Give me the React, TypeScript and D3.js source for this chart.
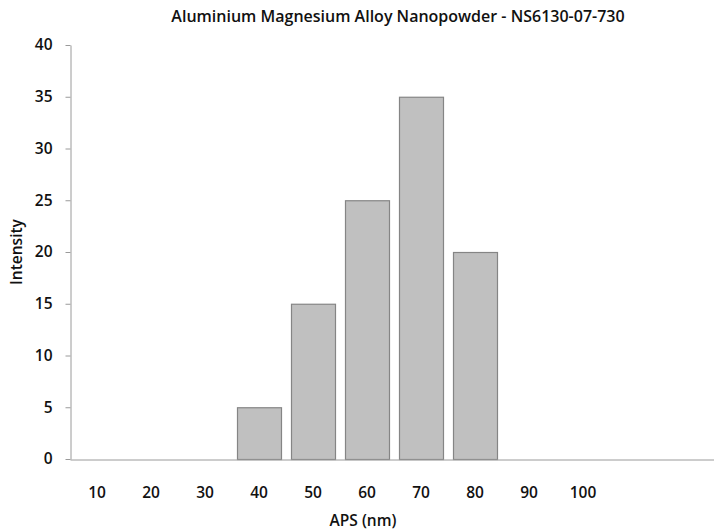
import React, { useRef, useEffect } from 'react'
import * as d3 from 'd3'

// categories (last two slots are empty in the original chart)
const categories: string[] = ['10', '20', '30', '40', '50', '60', '70', '80', '90', '100', '', ' ']
const intensity: number[] = [0, 0, 0, 5, 15, 25, 35, 20, 0, 0, 0, 0]
const yTicks: number[] = [0, 5, 10, 15, 20, 25, 30, 35, 40]

const title = 'Aluminium Magnesium Alloy Nanopowder - NS6130-07-730'
const font = '"Open Sans", "Liberation Sans", sans-serif'

export default function App() {
  const ref = useRef<SVGSVGElement>(null)

  useEffect(() => {
    const svg = d3.select(ref.current)
    svg.selectAll('*').remove()

    const width = 714, height = 532
    const margin = { top: 45, right: -4, bottom: 73, left: 70 }

    const x = d3.scaleBand<string>()
      .domain(categories)
      .range([margin.left, width - margin.right])
      .paddingInner(0.185)
      .paddingOuter(0.0925)
    const y = d3.scaleLinear().domain([0, 40]).range([height - margin.bottom, margin.top])

    svg.append('rect').attr('width', width).attr('height', height).attr('fill', '#fff')

    // bars
    svg.append('g')
      .selectAll('rect')
      .data(categories.map((c, i) => ({ c, v: intensity[i] })).filter(d => d.v > 0))
      .join('rect')
      .attr('x', d => x(d.c)! + 0.5)
      .attr('y', d => y(d.v) + 0.5)
      .attr('width', x.bandwidth())
      .attr('height', d => y(0) - y(d.v))
      .attr('fill', '#c0c0c0')
      .attr('stroke', '#858585')
      .attr('stroke-width', 1.2)

    // y axis
    const yAxis = svg.append('g')
      .attr('transform', `translate(${margin.left + 0.5},0)`)
      .call(d3.axisLeft(y).tickValues(yTicks).tickSize(5).tickSizeOuter(0).tickPadding(13))
    yAxis.select('.domain').attr('stroke', '#9a9a9a')
    yAxis.selectAll('.tick line').attr('stroke', '#9a9a9a')
    yAxis.selectAll('.tick text')
      .attr('font-family', font).attr('font-size', 15.5).attr('font-weight', 600).attr('fill', '#111')

    // x axis
    const xAxis = svg.append('g')
      .attr('transform', `translate(0,${y(0) + 0.5})`)
      .call(d3.axisBottom(x).tickSize(0).tickPadding(27))
    xAxis.select('.domain').attr('stroke', '#9a9a9a')
    xAxis.selectAll('.tick text')
      .attr('font-family', font).attr('font-size', 15.5).attr('font-weight', 600).attr('fill', '#111')

    // titles
    svg.append('text')
      .attr('x', 398).attr('y', 22)
      .attr('text-anchor', 'middle')
      .attr('font-family', font).attr('font-size', 16).attr('font-weight', 600).attr('fill', '#111')
      .text(title)

    svg.append('text')
      .attr('x', 363).attr('y', 526)
      .attr('text-anchor', 'middle')
      .attr('font-family', font).attr('font-size', 15.5).attr('font-weight', 600).attr('fill', '#111')
      .text('APS (nm)')

    svg.append('text')
      .attr('transform', `translate(22,${252}) rotate(-90)`)
      .attr('text-anchor', 'middle')
      .attr('font-family', font).attr('font-size', 15.5).attr('font-weight', 600).attr('fill', '#111')
      .text('Intensity')
  }, [])

  return (
    <svg ref={ref} width={714} height={532}
      style={{ position: 'absolute', left: 0, top: 0, display: 'block' }} />
  )
}
